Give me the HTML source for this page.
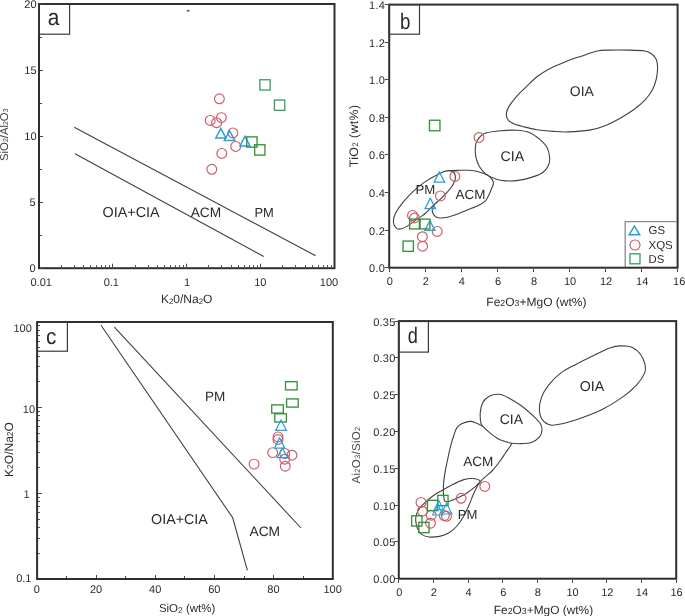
<!DOCTYPE html>
<html><head><meta charset="utf-8"><style>
html,body{margin:0;padding:0;background:#fff;}
svg{display:block;filter:blur(0.4px);}
text{font-family:"Liberation Sans",sans-serif;text-rendering:geometricPrecision;}
</style></head><body>
<svg width="685" height="616" viewBox="0 0 685 616">
<rect width="685" height="616" fill="#fff"/>
<rect x="39.00" y="4.00" width="295.50" height="264.20" fill="none" stroke="#342c2c" stroke-width="2.0"/>
<rect x="39.00" y="4.00" width="30.60" height="30.20" fill="none" stroke="#3d3838" stroke-width="1.2"/>
<text transform="translate(47.80,25.00) scale(0.913,1)" font-size="22.8" fill="#2a2626">a</text>
<line x1="40.00" y1="268.50" x2="43.00" y2="268.50" stroke="#4a4444" stroke-width="1"/>
<line x1="40.00" y1="202.50" x2="43.00" y2="202.50" stroke="#4a4444" stroke-width="1"/>
<line x1="40.00" y1="136.50" x2="43.00" y2="136.50" stroke="#4a4444" stroke-width="1"/>
<line x1="40.00" y1="70.50" x2="43.00" y2="70.50" stroke="#4a4444" stroke-width="1"/>
<line x1="40.00" y1="4.50" x2="43.00" y2="4.50" stroke="#4a4444" stroke-width="1"/>
<line x1="40.00" y1="235.50" x2="42.00" y2="235.50" stroke="#4a4444" stroke-width="1"/>
<line x1="40.00" y1="169.50" x2="42.00" y2="169.50" stroke="#4a4444" stroke-width="1"/>
<line x1="40.00" y1="103.50" x2="42.00" y2="103.50" stroke="#4a4444" stroke-width="1"/>
<line x1="40.00" y1="37.50" x2="42.00" y2="37.50" stroke="#4a4444" stroke-width="1"/>
<text x="35.70" y="272.10" font-size="11" text-anchor="end" fill="#2b2b2b" >0</text>
<text x="35.70" y="206.05" font-size="11" text-anchor="end" fill="#2b2b2b" >5</text>
<text x="36.60" y="140.00" font-size="11" text-anchor="end" fill="#2b2b2b" >10</text>
<text x="36.60" y="73.95" font-size="11" text-anchor="end" fill="#2b2b2b" >15</text>
<text x="36.60" y="7.90" font-size="11" text-anchor="end" fill="#2b2b2b" >20</text>
<line x1="61.50" y1="267.20" x2="61.50" y2="265.20" stroke="#4a4444" stroke-width="1"/>
<line x1="74.50" y1="267.20" x2="74.50" y2="265.20" stroke="#4a4444" stroke-width="1"/>
<line x1="83.50" y1="267.20" x2="83.50" y2="265.20" stroke="#4a4444" stroke-width="1"/>
<line x1="90.50" y1="267.20" x2="90.50" y2="265.20" stroke="#4a4444" stroke-width="1"/>
<line x1="96.50" y1="267.20" x2="96.50" y2="265.20" stroke="#4a4444" stroke-width="1"/>
<line x1="101.50" y1="267.20" x2="101.50" y2="265.20" stroke="#4a4444" stroke-width="1"/>
<line x1="105.50" y1="267.20" x2="105.50" y2="265.20" stroke="#4a4444" stroke-width="1"/>
<line x1="109.50" y1="267.20" x2="109.50" y2="265.20" stroke="#4a4444" stroke-width="1"/>
<line x1="112.50" y1="267.20" x2="112.50" y2="263.70" stroke="#4a4444" stroke-width="1"/>
<line x1="135.50" y1="267.20" x2="135.50" y2="265.20" stroke="#4a4444" stroke-width="1"/>
<line x1="148.50" y1="267.20" x2="148.50" y2="265.20" stroke="#4a4444" stroke-width="1"/>
<line x1="157.50" y1="267.20" x2="157.50" y2="265.20" stroke="#4a4444" stroke-width="1"/>
<line x1="164.50" y1="267.20" x2="164.50" y2="265.20" stroke="#4a4444" stroke-width="1"/>
<line x1="170.50" y1="267.20" x2="170.50" y2="265.20" stroke="#4a4444" stroke-width="1"/>
<line x1="175.50" y1="267.20" x2="175.50" y2="265.20" stroke="#4a4444" stroke-width="1"/>
<line x1="179.50" y1="267.20" x2="179.50" y2="265.20" stroke="#4a4444" stroke-width="1"/>
<line x1="183.50" y1="267.20" x2="183.50" y2="265.20" stroke="#4a4444" stroke-width="1"/>
<line x1="186.50" y1="267.20" x2="186.50" y2="263.70" stroke="#4a4444" stroke-width="1"/>
<line x1="208.50" y1="267.20" x2="208.50" y2="265.20" stroke="#4a4444" stroke-width="1"/>
<line x1="221.50" y1="267.20" x2="221.50" y2="265.20" stroke="#4a4444" stroke-width="1"/>
<line x1="231.50" y1="267.20" x2="231.50" y2="265.20" stroke="#4a4444" stroke-width="1"/>
<line x1="238.50" y1="267.20" x2="238.50" y2="265.20" stroke="#4a4444" stroke-width="1"/>
<line x1="244.50" y1="267.20" x2="244.50" y2="265.20" stroke="#4a4444" stroke-width="1"/>
<line x1="249.50" y1="267.20" x2="249.50" y2="265.20" stroke="#4a4444" stroke-width="1"/>
<line x1="253.50" y1="267.20" x2="253.50" y2="265.20" stroke="#4a4444" stroke-width="1"/>
<line x1="257.50" y1="267.20" x2="257.50" y2="265.20" stroke="#4a4444" stroke-width="1"/>
<line x1="260.50" y1="267.20" x2="260.50" y2="263.70" stroke="#4a4444" stroke-width="1"/>
<line x1="282.50" y1="267.20" x2="282.50" y2="265.20" stroke="#4a4444" stroke-width="1"/>
<line x1="295.50" y1="267.20" x2="295.50" y2="265.20" stroke="#4a4444" stroke-width="1"/>
<line x1="305.50" y1="267.20" x2="305.50" y2="265.20" stroke="#4a4444" stroke-width="1"/>
<line x1="312.50" y1="267.20" x2="312.50" y2="265.20" stroke="#4a4444" stroke-width="1"/>
<line x1="318.50" y1="267.20" x2="318.50" y2="265.20" stroke="#4a4444" stroke-width="1"/>
<line x1="323.50" y1="267.20" x2="323.50" y2="265.20" stroke="#4a4444" stroke-width="1"/>
<line x1="327.50" y1="267.20" x2="327.50" y2="265.20" stroke="#4a4444" stroke-width="1"/>
<line x1="331.50" y1="267.20" x2="331.50" y2="265.20" stroke="#4a4444" stroke-width="1"/>
<text x="41.20" y="286.00" font-size="11" text-anchor="middle" fill="#2b2b2b" >0.01</text>
<text x="111.30" y="286.00" font-size="11" text-anchor="middle" fill="#2b2b2b" >0.1</text>
<text x="187.00" y="286.00" font-size="11" text-anchor="middle" fill="#2b2b2b" >1</text>
<text x="260.30" y="286.00" font-size="11" text-anchor="middle" fill="#2b2b2b" >10</text>
<text x="329.00" y="286.00" font-size="11" text-anchor="middle" fill="#2b2b2b" >100</text>
<text x="161.00" y="303.40" font-size="12" text-anchor="start" fill="#2b2b2b" ><tspan>K</tspan><tspan font-size="7.8" dy="0.4">2</tspan><tspan dy="-0.4">0/Na</tspan><tspan font-size="7.8" dy="0.4">2</tspan><tspan dy="-0.4">O</tspan></text>
<text transform="translate(7.9,134.7) rotate(-90)" font-size="11.3" text-anchor="middle" fill="#3a3a3a"><tspan>SiO</tspan><tspan font-size="7.0" dy="0.5">2</tspan><tspan dy="-0.5">/Al</tspan><tspan font-size="7.0" dy="0.5">2</tspan><tspan dy="-0.5">O</tspan><tspan font-size="7.0" dy="0.5">3</tspan></text>
<line x1="74.20" y1="127.30" x2="315.60" y2="255.70" stroke="#443f3f" stroke-width="1.1"/>
<line x1="75.00" y1="153.80" x2="263.70" y2="256.50" stroke="#443f3f" stroke-width="1.1"/>
<text x="102.60" y="216.50" font-size="14.37" text-anchor="start" fill="#2b2b2b" >OIA+CIA</text>
<text x="190.70" y="216.70" font-size="13.73" text-anchor="start" fill="#2b2b2b" >ACM</text>
<text x="254.50" y="216.80" font-size="12.93" text-anchor="start" fill="#2b2b2b" >PM</text>
<line x1="186.70" y1="10.80" x2="189.60" y2="10.80" stroke="#333" stroke-width="1.2"/>
<circle cx="219.40" cy="98.80" r="4.9" fill="none" stroke="#cf5a66" stroke-width="1.15"/>
<circle cx="221.40" cy="117.60" r="4.9" fill="none" stroke="#cf5a66" stroke-width="1.15"/>
<circle cx="210.20" cy="120.40" r="4.9" fill="none" stroke="#cf5a66" stroke-width="1.15"/>
<circle cx="216.60" cy="122.70" r="4.9" fill="none" stroke="#cf5a66" stroke-width="1.15"/>
<circle cx="232.90" cy="132.90" r="4.9" fill="none" stroke="#cf5a66" stroke-width="1.15"/>
<circle cx="235.70" cy="146.40" r="4.9" fill="none" stroke="#cf5a66" stroke-width="1.15"/>
<circle cx="221.80" cy="153.40" r="4.9" fill="none" stroke="#cf5a66" stroke-width="1.15"/>
<circle cx="211.80" cy="169.30" r="4.9" fill="none" stroke="#cf5a66" stroke-width="1.15"/>
<path d="M220.80,128.30 L225.80,138.00 L215.80,138.00 Z" fill="none" stroke="#27a2d9" stroke-width="1.5" stroke-linejoin="miter"/>
<path d="M229.60,130.90 L234.90,140.60 L224.30,140.60 Z" fill="none" stroke="#27a2d9" stroke-width="1.5" stroke-linejoin="miter"/>
<path d="M245.00,136.30 L250.00,146.00 L240.00,146.00 Z" fill="none" stroke="#27a2d9" stroke-width="1.5" stroke-linejoin="miter"/>
<rect x="259.85" y="79.75" width="10.30" height="10.30" fill="none" stroke="#3aa067" stroke-width="1.35"/>
<rect x="274.45" y="100.05" width="10.30" height="10.30" fill="none" stroke="#3aa067" stroke-width="1.35"/>
<rect x="246.75" y="136.85" width="10.30" height="10.30" fill="none" stroke="#35923a" stroke-width="1.35"/>
<rect x="254.65" y="144.75" width="10.30" height="10.30" fill="none" stroke="#35923a" stroke-width="1.35"/>
<rect x="389.20" y="4.60" width="288.40" height="263.10" fill="none" stroke="#342c2c" stroke-width="2.0"/>
<rect x="389.20" y="4.60" width="30.30" height="29.60" fill="none" stroke="#3d3838" stroke-width="1.2"/>
<text transform="translate(400.10,28.50) scale(0.839,1)" font-size="22.3" fill="#2a2626">b</text>
<line x1="384.70" y1="267.50" x2="388.20" y2="267.50" stroke="#4a4444" stroke-width="1"/>
<text x="385.30" y="272.20" font-size="11" text-anchor="end" fill="#2b2b2b" letter-spacing="0.35">0.0</text>
<line x1="384.70" y1="230.50" x2="388.20" y2="230.50" stroke="#4a4444" stroke-width="1"/>
<text x="385.30" y="234.61" font-size="11" text-anchor="end" fill="#2b2b2b" letter-spacing="0.35">0.2</text>
<line x1="384.70" y1="192.50" x2="388.20" y2="192.50" stroke="#4a4444" stroke-width="1"/>
<text x="385.30" y="197.03" font-size="11" text-anchor="end" fill="#2b2b2b" letter-spacing="0.35">0.4</text>
<line x1="384.70" y1="154.50" x2="388.20" y2="154.50" stroke="#4a4444" stroke-width="1"/>
<text x="385.30" y="159.44" font-size="11" text-anchor="end" fill="#2b2b2b" letter-spacing="0.35">0.6</text>
<line x1="384.70" y1="117.50" x2="388.20" y2="117.50" stroke="#4a4444" stroke-width="1"/>
<text x="385.30" y="121.86" font-size="11" text-anchor="end" fill="#2b2b2b" letter-spacing="0.35">0.8</text>
<line x1="384.70" y1="79.50" x2="388.20" y2="79.50" stroke="#4a4444" stroke-width="1"/>
<text x="385.30" y="84.27" font-size="11" text-anchor="end" fill="#2b2b2b" letter-spacing="0.35">1.0</text>
<line x1="384.70" y1="42.50" x2="388.20" y2="42.50" stroke="#4a4444" stroke-width="1"/>
<text x="385.30" y="46.69" font-size="11" text-anchor="end" fill="#2b2b2b" letter-spacing="0.35">1.2</text>
<line x1="384.70" y1="4.50" x2="388.20" y2="4.50" stroke="#4a4444" stroke-width="1"/>
<text x="385.30" y="9.10" font-size="11" text-anchor="end" fill="#2b2b2b" letter-spacing="0.35">1.4</text>
<line x1="389.50" y1="268.70" x2="389.50" y2="272.00" stroke="#4a4444" stroke-width="1"/>
<text x="389.80" y="285.20" font-size="11" text-anchor="middle" fill="#2b2b2b" >0</text>
<line x1="425.50" y1="268.70" x2="425.50" y2="272.00" stroke="#4a4444" stroke-width="1"/>
<text x="425.85" y="285.20" font-size="11" text-anchor="middle" fill="#2b2b2b" >2</text>
<line x1="461.50" y1="268.70" x2="461.50" y2="272.00" stroke="#4a4444" stroke-width="1"/>
<text x="461.90" y="285.20" font-size="11" text-anchor="middle" fill="#2b2b2b" >4</text>
<line x1="497.50" y1="268.70" x2="497.50" y2="272.00" stroke="#4a4444" stroke-width="1"/>
<text x="497.95" y="285.20" font-size="11" text-anchor="middle" fill="#2b2b2b" >6</text>
<line x1="533.50" y1="268.70" x2="533.50" y2="272.00" stroke="#4a4444" stroke-width="1"/>
<text x="534.00" y="285.20" font-size="11" text-anchor="middle" fill="#2b2b2b" >8</text>
<line x1="569.50" y1="268.70" x2="569.50" y2="272.00" stroke="#4a4444" stroke-width="1"/>
<text x="570.05" y="285.20" font-size="11" text-anchor="middle" fill="#2b2b2b" >10</text>
<line x1="605.50" y1="268.70" x2="605.50" y2="272.00" stroke="#4a4444" stroke-width="1"/>
<text x="606.10" y="285.20" font-size="11" text-anchor="middle" fill="#2b2b2b" >12</text>
<line x1="641.50" y1="268.70" x2="641.50" y2="272.00" stroke="#4a4444" stroke-width="1"/>
<text x="642.15" y="285.20" font-size="11" text-anchor="middle" fill="#2b2b2b" >14</text>
<line x1="677.50" y1="268.70" x2="677.50" y2="272.00" stroke="#4a4444" stroke-width="1"/>
<text x="679.20" y="285.20" font-size="11" text-anchor="middle" fill="#2b2b2b" >16</text>
<text x="486.30" y="305.90" font-size="12.0" text-anchor="start" fill="#2b2b2b" ><tspan>Fe</tspan><tspan font-size="8.8" dy="0.5">2</tspan><tspan dy="-0.5">O</tspan><tspan font-size="8.8" dy="0.5">3</tspan><tspan dy="-0.5">+MgO (wt%)</tspan></text>
<text transform="translate(357.6,135.9) rotate(-90)" font-size="12.3" letter-spacing="0.4" text-anchor="middle" fill="#2b2b2b"><tspan>TiO</tspan><tspan font-size="8.0" dy="0.8">2</tspan><tspan dy="-0.8"> (wt%)</tspan></text>
<path d="M506.50,113.00 C506.77,110.98 507.28,109.30 508.90,106.60 C510.52,103.90 513.35,100.05 516.20,96.80 C519.05,93.55 522.48,90.48 526.00,87.10 C529.52,83.72 533.52,79.48 537.30,76.50 C541.08,73.52 544.10,71.63 548.70,69.20 C553.30,66.77 559.48,64.07 564.90,61.90 C570.32,59.73 575.78,58.02 581.20,56.20 C586.62,54.38 592.73,52.02 597.40,51.00 C602.07,49.98 603.98,50.25 609.20,50.10 C614.42,49.95 622.75,49.95 628.70,50.10 C634.65,50.25 641.12,50.38 644.90,51.00 C648.68,51.62 649.50,52.38 651.40,53.80 C653.30,55.22 655.27,57.20 656.30,59.50 C657.33,61.80 657.60,64.35 657.60,67.60 C657.60,70.85 657.20,75.22 656.30,79.00 C655.40,82.78 654.10,86.78 652.20,90.30 C650.30,93.82 648.00,96.85 644.90,100.10 C641.80,103.35 637.65,106.83 633.60,109.80 C629.55,112.77 625.47,115.20 620.60,117.90 C615.73,120.60 609.55,123.97 604.40,126.00 C599.25,128.03 595.73,129.12 589.70,130.10 C583.67,131.08 574.22,131.68 568.20,131.90 C562.18,132.12 558.75,131.75 553.60,131.40 C548.45,131.05 542.17,130.55 537.30,129.80 C532.43,129.05 528.45,127.93 524.40,126.90 C520.35,125.87 515.85,124.97 513.00,123.60 C510.15,122.23 508.38,120.47 507.30,118.70 C506.22,116.93 506.23,115.02 506.50,113.00 Z" fill="none" stroke="#443f3f" stroke-width="1.1"/>
<path d="M475.40,147.30 C475.57,144.62 475.40,143.30 476.90,141.00 C478.40,138.70 480.45,135.20 484.40,133.50 C488.35,131.80 495.20,131.33 500.60,130.80 C506.00,130.27 511.93,129.98 516.80,130.30 C521.67,130.62 526.02,131.22 529.80,132.70 C533.58,134.18 536.65,136.77 539.50,139.20 C542.35,141.63 545.22,144.32 546.90,147.30 C548.58,150.28 549.33,154.12 549.60,157.10 C549.87,160.08 549.63,162.63 548.50,165.20 C547.37,167.77 545.65,170.47 542.80,172.50 C539.95,174.53 535.73,176.05 531.40,177.40 C527.07,178.75 521.12,180.02 516.80,180.60 C512.48,181.18 509.02,181.17 505.50,180.90 C501.98,180.63 498.95,180.13 495.70,179.00 C492.45,177.87 488.70,176.13 486.00,174.10 C483.30,172.07 481.18,169.63 479.50,166.80 C477.82,163.97 476.58,160.35 475.90,157.10 C475.22,153.85 475.23,149.98 475.40,147.30 Z" fill="none" stroke="#443f3f" stroke-width="1.1"/>
<path d="M449.20,170.60 C450.80,170.67 452.57,171.03 453.60,172.00 C454.63,172.97 455.23,174.87 455.40,176.40 C455.57,177.93 455.33,179.32 454.60,181.20 C453.87,183.08 452.55,185.53 451.00,187.70 C449.45,189.87 447.20,192.17 445.30,194.20 C443.40,196.23 441.63,198.00 439.60,199.90 C437.57,201.80 435.40,203.42 433.10,205.60 C430.80,207.78 428.08,211.00 425.80,213.00 C423.52,215.00 422.50,215.42 419.40,217.60 C416.30,219.78 410.18,224.23 407.20,226.10 C404.22,227.97 403.28,228.42 401.50,228.80 C399.72,229.18 397.85,229.53 396.50,228.40 C395.15,227.27 393.58,224.47 393.40,222.00 C393.22,219.53 393.88,216.78 395.40,213.60 C396.92,210.42 399.53,206.62 402.50,202.90 C405.47,199.18 409.33,194.88 413.20,191.30 C417.07,187.72 421.73,184.12 425.70,181.40 C429.67,178.68 433.95,176.63 437.00,175.00 C440.05,173.37 441.97,172.33 444.00,171.60 C446.03,170.87 447.60,170.53 449.20,170.60 Z" fill="none" stroke="#443f3f" stroke-width="1.1"/>
<path d="M449.20,170.60 C450.58,170.57 454.20,170.45 457.50,170.40 C460.80,170.35 465.52,170.08 469.00,170.30 C472.48,170.52 475.28,170.88 478.40,171.70 C481.52,172.52 485.37,173.83 487.70,175.20 C490.03,176.57 491.45,178.50 492.40,179.90 C493.35,181.30 493.50,182.25 493.40,183.60 C493.30,184.95 492.55,186.10 491.80,188.00 C491.05,189.90 489.97,192.85 488.90,195.00 C487.83,197.15 487.15,199.15 485.40,200.90 C483.65,202.65 481.52,203.95 478.40,205.50 C475.28,207.05 470.60,208.63 466.70,210.20 C462.80,211.77 458.88,213.63 455.00,214.90 C451.12,216.17 446.50,217.42 443.40,217.80 C440.30,218.18 438.20,218.03 436.40,217.20 C434.60,216.37 433.25,214.23 432.60,212.80 C431.95,211.37 432.18,209.90 432.50,208.60 C432.82,207.30 434.17,205.60 434.50,205.00 " fill="none" stroke="#443f3f" stroke-width="1.1"/>
<text x="569.80" y="95.90" font-size="13.93" text-anchor="start" fill="#2b2b2b" >OIA</text>
<text x="500.60" y="160.50" font-size="14.1" text-anchor="start" fill="#2b2b2b" >CIA</text>
<text x="455.60" y="198.70" font-size="13.41" text-anchor="start" fill="#2b2b2b" >ACM</text>
<text x="415.50" y="194.40" font-size="13.2" text-anchor="start" fill="#2b2b2b" >PM</text>
<path d="M625.2,267 L625.2,221.6 L677,221.6" fill="none" stroke="#8a8a8a" stroke-width="1.3"/>
<path d="M634.40,226.20 L639.70,234.80 L629.10,234.80 Z" fill="none" stroke="#27a2d9" stroke-width="1.5" stroke-linejoin="miter"/>
<circle cx="635.00" cy="245.00" r="5.0" fill="none" stroke="#cf5a66" stroke-width="1.15"/>
<rect x="630.00" y="253.80" width="10.00" height="10.00" fill="none" stroke="#3aa067" stroke-width="1.35"/>
<text x="648.60" y="234.10" font-size="11.42" text-anchor="start" fill="#2b2b2b" >GS</text>
<text x="648.50" y="248.50" font-size="11.5" text-anchor="start" fill="#2b2b2b" >XQS</text>
<text x="648.60" y="262.60" font-size="11.3" text-anchor="start" fill="#2b2b2b" >DS</text>
<circle cx="479.00" cy="137.50" r="4.9" fill="none" stroke="#cf5a66" stroke-width="1.15"/>
<circle cx="454.90" cy="176.40" r="4.9" fill="none" stroke="#cf5a66" stroke-width="1.15"/>
<circle cx="440.40" cy="195.90" r="4.9" fill="none" stroke="#cf5a66" stroke-width="1.15"/>
<circle cx="412.50" cy="215.40" r="4.9" fill="none" stroke="#cf5a66" stroke-width="1.15"/>
<circle cx="414.50" cy="218.00" r="4.9" fill="none" stroke="#cf5a66" stroke-width="1.15"/>
<circle cx="437.20" cy="231.40" r="4.9" fill="none" stroke="#cf5a66" stroke-width="1.15"/>
<circle cx="422.40" cy="236.70" r="4.9" fill="none" stroke="#cf5a66" stroke-width="1.15"/>
<circle cx="422.60" cy="246.20" r="4.9" fill="none" stroke="#cf5a66" stroke-width="1.15"/>
<path d="M439.40,172.00 L444.70,182.20 L434.10,182.20 Z" fill="none" stroke="#27a2d9" stroke-width="1.3" stroke-linejoin="miter"/>
<path d="M430.30,198.30 L435.60,208.70 L425.00,208.70 Z" fill="none" stroke="#27a2d9" stroke-width="1.3" stroke-linejoin="miter"/>
<path d="M429.90,220.60 L435.00,230.40 L424.80,230.40 Z" fill="none" stroke="#27a2d9" stroke-width="1.3" stroke-linejoin="miter"/>
<rect x="429.45" y="120.25" width="10.50" height="10.50" fill="none" stroke="#35923a" stroke-width="1.35"/>
<rect x="409.60" y="219.10" width="9.80" height="9.80" fill="none" stroke="#35923a" stroke-width="1.35"/>
<rect x="420.10" y="219.10" width="9.80" height="9.80" fill="none" stroke="#35923a" stroke-width="1.35"/>
<rect x="403.05" y="241.05" width="10.30" height="10.30" fill="none" stroke="#35923a" stroke-width="1.35"/>
<rect x="37.10" y="322.00" width="295.70" height="257.00" fill="none" stroke="#342c2c" stroke-width="2.0"/>
<rect x="37.10" y="322.00" width="30.30" height="29.20" fill="none" stroke="#3d3838" stroke-width="1.2"/>
<text transform="translate(45.90,344.40) scale(0.929,1)" font-size="22.3" fill="#2a2626">c</text>
<line x1="38.10" y1="553.50" x2="39.90" y2="553.50" stroke="#4a4444" stroke-width="1"/>
<line x1="38.10" y1="538.50" x2="39.90" y2="538.50" stroke="#4a4444" stroke-width="1"/>
<line x1="38.10" y1="527.50" x2="39.90" y2="527.50" stroke="#4a4444" stroke-width="1"/>
<line x1="38.10" y1="519.50" x2="39.90" y2="519.50" stroke="#4a4444" stroke-width="1"/>
<line x1="38.10" y1="512.50" x2="39.90" y2="512.50" stroke="#4a4444" stroke-width="1"/>
<line x1="38.10" y1="506.50" x2="39.90" y2="506.50" stroke="#4a4444" stroke-width="1"/>
<line x1="38.10" y1="501.50" x2="39.90" y2="501.50" stroke="#4a4444" stroke-width="1"/>
<line x1="38.10" y1="497.50" x2="39.90" y2="497.50" stroke="#4a4444" stroke-width="1"/>
<line x1="38.10" y1="493.50" x2="41.90" y2="493.50" stroke="#4a4444" stroke-width="1"/>
<line x1="38.10" y1="467.50" x2="39.90" y2="467.50" stroke="#4a4444" stroke-width="1"/>
<line x1="38.10" y1="452.50" x2="39.90" y2="452.50" stroke="#4a4444" stroke-width="1"/>
<line x1="38.10" y1="441.50" x2="39.90" y2="441.50" stroke="#4a4444" stroke-width="1"/>
<line x1="38.10" y1="433.50" x2="39.90" y2="433.50" stroke="#4a4444" stroke-width="1"/>
<line x1="38.10" y1="426.50" x2="39.90" y2="426.50" stroke="#4a4444" stroke-width="1"/>
<line x1="38.10" y1="420.50" x2="39.90" y2="420.50" stroke="#4a4444" stroke-width="1"/>
<line x1="38.10" y1="415.50" x2="39.90" y2="415.50" stroke="#4a4444" stroke-width="1"/>
<line x1="38.10" y1="411.50" x2="39.90" y2="411.50" stroke="#4a4444" stroke-width="1"/>
<line x1="38.10" y1="407.50" x2="41.90" y2="407.50" stroke="#4a4444" stroke-width="1"/>
<line x1="38.10" y1="381.50" x2="39.90" y2="381.50" stroke="#4a4444" stroke-width="1"/>
<line x1="38.10" y1="366.50" x2="39.90" y2="366.50" stroke="#4a4444" stroke-width="1"/>
<line x1="38.10" y1="356.50" x2="39.90" y2="356.50" stroke="#4a4444" stroke-width="1"/>
<line x1="38.10" y1="347.50" x2="39.90" y2="347.50" stroke="#4a4444" stroke-width="1"/>
<line x1="38.10" y1="341.50" x2="39.90" y2="341.50" stroke="#4a4444" stroke-width="1"/>
<line x1="38.10" y1="335.50" x2="39.90" y2="335.50" stroke="#4a4444" stroke-width="1"/>
<line x1="38.10" y1="330.50" x2="39.90" y2="330.50" stroke="#4a4444" stroke-width="1"/>
<line x1="38.10" y1="325.50" x2="39.90" y2="325.50" stroke="#4a4444" stroke-width="1"/>
<text x="13.50" y="331.50" font-size="11" text-anchor="start" fill="#2b2b2b" >100</text>
<text x="22.80" y="412.90" font-size="11" text-anchor="start" fill="#2b2b2b" >10</text>
<text x="23.40" y="497.90" font-size="11" text-anchor="start" fill="#2b2b2b" >1</text>
<text x="16.20" y="581.60" font-size="11" text-anchor="start" fill="#2b2b2b" >0.1</text>
<line x1="66.50" y1="578.00" x2="66.50" y2="576.00" stroke="#4a4444" stroke-width="1"/>
<line x1="96.50" y1="578.00" x2="96.50" y2="575.00" stroke="#4a4444" stroke-width="1"/>
<line x1="125.50" y1="578.00" x2="125.50" y2="576.00" stroke="#4a4444" stroke-width="1"/>
<line x1="155.50" y1="578.00" x2="155.50" y2="575.00" stroke="#4a4444" stroke-width="1"/>
<line x1="184.50" y1="578.00" x2="184.50" y2="576.00" stroke="#4a4444" stroke-width="1"/>
<line x1="214.50" y1="578.00" x2="214.50" y2="575.00" stroke="#4a4444" stroke-width="1"/>
<line x1="244.50" y1="578.00" x2="244.50" y2="576.00" stroke="#4a4444" stroke-width="1"/>
<line x1="273.50" y1="578.00" x2="273.50" y2="575.00" stroke="#4a4444" stroke-width="1"/>
<line x1="303.50" y1="578.00" x2="303.50" y2="576.00" stroke="#4a4444" stroke-width="1"/>
<text x="36.90" y="592.80" font-size="11" text-anchor="middle" fill="#2b2b2b" >0</text>
<text x="96.04" y="592.80" font-size="11" text-anchor="middle" fill="#2b2b2b" >20</text>
<text x="155.18" y="592.80" font-size="11" text-anchor="middle" fill="#2b2b2b" >40</text>
<text x="214.32" y="592.80" font-size="11" text-anchor="middle" fill="#2b2b2b" >60</text>
<text x="273.46" y="592.80" font-size="11" text-anchor="middle" fill="#2b2b2b" >80</text>
<text x="332.60" y="592.80" font-size="11" text-anchor="middle" fill="#2b2b2b" >100</text>
<text x="158.90" y="612.40" font-size="11.5" text-anchor="start" fill="#2b2b2b" ><tspan>SiO</tspan><tspan font-size="8.4" dy="0.5">2</tspan><tspan dy="-0.5"> (wt%)</tspan></text>
<text transform="translate(12.6,449.5) rotate(-90)" font-size="12" text-anchor="middle" fill="#2b2b2b"><tspan>K</tspan><tspan font-size="8.5" dy="0.4">2</tspan><tspan dy="-0.4">O/Na</tspan><tspan font-size="8.5" dy="0.4">2</tspan><tspan dy="-0.4">O</tspan></text>
<polyline points="101.0,325.2 232.7,517.8 247.4,570.3" fill="none" stroke="#443f3f" stroke-width="1.1"/>
<line x1="114.40" y1="327.10" x2="301.00" y2="528.00" stroke="#443f3f" stroke-width="1.1"/>
<text x="204.90" y="400.60" font-size="13.53" text-anchor="start" fill="#2b2b2b" >PM</text>
<text x="151.10" y="523.50" font-size="14.27" text-anchor="start" fill="#2b2b2b" >OIA+CIA</text>
<text x="249.50" y="536.10" font-size="13.77" text-anchor="start" fill="#2b2b2b" >ACM</text>
<rect x="285.50" y="381.70" width="11.60" height="8.20" fill="none" stroke="#35923a" stroke-width="1.35"/>
<rect x="286.60" y="398.90" width="11.60" height="8.20" fill="none" stroke="#35923a" stroke-width="1.35"/>
<rect x="271.70" y="404.90" width="11.60" height="8.20" fill="none" stroke="#35923a" stroke-width="1.35"/>
<rect x="274.80" y="413.80" width="11.60" height="8.20" fill="none" stroke="#35923a" stroke-width="1.35"/>
<circle cx="278.00" cy="436.90" r="4.9" fill="none" stroke="#cf5a66" stroke-width="1.15"/>
<circle cx="278.00" cy="439.50" r="4.9" fill="none" stroke="#cf5a66" stroke-width="1.15"/>
<circle cx="272.70" cy="452.60" r="4.9" fill="none" stroke="#cf5a66" stroke-width="1.15"/>
<circle cx="284.70" cy="453.40" r="4.9" fill="none" stroke="#cf5a66" stroke-width="1.15"/>
<circle cx="292.00" cy="455.20" r="4.9" fill="none" stroke="#cf5a66" stroke-width="1.15"/>
<circle cx="284.70" cy="459.20" r="4.9" fill="none" stroke="#cf5a66" stroke-width="1.15"/>
<circle cx="285.30" cy="466.20" r="4.9" fill="none" stroke="#cf5a66" stroke-width="1.15"/>
<circle cx="254.10" cy="464.10" r="4.9" fill="none" stroke="#cf5a66" stroke-width="1.15"/>
<path d="M281.00,420.00 L286.40,430.40 L275.60,430.40 Z" fill="none" stroke="#27a2d9" stroke-width="1.25" stroke-linejoin="miter"/>
<path d="M279.60,437.80 L284.70,448.10 L274.50,448.10 Z" fill="none" stroke="#27a2d9" stroke-width="1.25" stroke-linejoin="miter"/>
<path d="M282.40,448.40 L287.70,457.60 L277.10,457.60 Z" fill="none" stroke="#27a2d9" stroke-width="1.25" stroke-linejoin="miter"/>
<rect x="398.80" y="321.10" width="277.40" height="257.60" fill="none" stroke="#342c2c" stroke-width="2.0"/>
<rect x="398.80" y="321.10" width="29.60" height="31.00" fill="none" stroke="#3d3838" stroke-width="1.2"/>
<text transform="translate(407.70,343.00) scale(0.815,1)" font-size="22.3" fill="#2a2626">d</text>
<line x1="394.30" y1="578.50" x2="397.80" y2="578.50" stroke="#4a4444" stroke-width="1"/>
<text x="395.60" y="583.10" font-size="11" text-anchor="end" fill="#2b2b2b" letter-spacing="0.25">0.00</text>
<line x1="394.30" y1="541.50" x2="397.80" y2="541.50" stroke="#4a4444" stroke-width="1"/>
<text x="395.60" y="546.30" font-size="11" text-anchor="end" fill="#2b2b2b" letter-spacing="0.25">0.05</text>
<line x1="394.30" y1="505.50" x2="397.80" y2="505.50" stroke="#4a4444" stroke-width="1"/>
<text x="395.60" y="509.50" font-size="11" text-anchor="end" fill="#2b2b2b" letter-spacing="0.25">0.10</text>
<line x1="394.30" y1="468.50" x2="397.80" y2="468.50" stroke="#4a4444" stroke-width="1"/>
<text x="395.60" y="472.70" font-size="11" text-anchor="end" fill="#2b2b2b" letter-spacing="0.25">0.15</text>
<line x1="394.30" y1="431.50" x2="397.80" y2="431.50" stroke="#4a4444" stroke-width="1"/>
<text x="395.60" y="435.90" font-size="11" text-anchor="end" fill="#2b2b2b" letter-spacing="0.25">0.20</text>
<line x1="394.30" y1="394.50" x2="397.80" y2="394.50" stroke="#4a4444" stroke-width="1"/>
<text x="395.60" y="399.10" font-size="11" text-anchor="end" fill="#2b2b2b" letter-spacing="0.25">0.25</text>
<line x1="394.30" y1="357.50" x2="397.80" y2="357.50" stroke="#4a4444" stroke-width="1"/>
<text x="395.60" y="362.30" font-size="11" text-anchor="end" fill="#2b2b2b" letter-spacing="0.25">0.30</text>
<line x1="394.30" y1="321.50" x2="397.80" y2="321.50" stroke="#4a4444" stroke-width="1"/>
<text x="395.60" y="325.50" font-size="11" text-anchor="end" fill="#2b2b2b" letter-spacing="0.25">0.35</text>
<line x1="398.50" y1="579.70" x2="398.50" y2="583.00" stroke="#4a4444" stroke-width="1"/>
<text x="399.20" y="595.80" font-size="11" text-anchor="middle" fill="#2b2b2b" >0</text>
<line x1="433.50" y1="579.70" x2="433.50" y2="583.00" stroke="#4a4444" stroke-width="1"/>
<text x="433.88" y="595.80" font-size="11" text-anchor="middle" fill="#2b2b2b" >2</text>
<line x1="468.50" y1="579.70" x2="468.50" y2="583.00" stroke="#4a4444" stroke-width="1"/>
<text x="468.55" y="595.80" font-size="11" text-anchor="middle" fill="#2b2b2b" >4</text>
<line x1="502.50" y1="579.70" x2="502.50" y2="583.00" stroke="#4a4444" stroke-width="1"/>
<text x="503.23" y="595.80" font-size="11" text-anchor="middle" fill="#2b2b2b" >6</text>
<line x1="537.50" y1="579.70" x2="537.50" y2="583.00" stroke="#4a4444" stroke-width="1"/>
<text x="537.90" y="595.80" font-size="11" text-anchor="middle" fill="#2b2b2b" >8</text>
<line x1="572.50" y1="579.70" x2="572.50" y2="583.00" stroke="#4a4444" stroke-width="1"/>
<text x="572.58" y="595.80" font-size="11" text-anchor="middle" fill="#2b2b2b" >10</text>
<line x1="606.50" y1="579.70" x2="606.50" y2="583.00" stroke="#4a4444" stroke-width="1"/>
<text x="607.25" y="595.80" font-size="11" text-anchor="middle" fill="#2b2b2b" >12</text>
<line x1="641.50" y1="579.70" x2="641.50" y2="583.00" stroke="#4a4444" stroke-width="1"/>
<text x="641.93" y="595.80" font-size="11" text-anchor="middle" fill="#2b2b2b" >14</text>
<line x1="676.50" y1="579.70" x2="676.50" y2="583.00" stroke="#4a4444" stroke-width="1"/>
<text x="676.60" y="595.80" font-size="11" text-anchor="middle" fill="#2b2b2b" >16</text>
<text x="493.80" y="613.60" font-size="11.9" text-anchor="start" fill="#2b2b2b" ><tspan>Fe</tspan><tspan font-size="8.8" dy="0.5">2</tspan><tspan dy="-0.5">O</tspan><tspan font-size="8.8" dy="0.5">3</tspan><tspan dy="-0.5">+MgO (wt%)</tspan></text>
<text transform="translate(359.8,455.0) rotate(-90)" font-size="11.5" letter-spacing="0.25" text-anchor="middle" fill="#4a4a4a"><tspan>Ai</tspan><tspan font-size="7.6" dy="0.5">2</tspan><tspan dy="-0.5">O</tspan><tspan font-size="7.6" dy="0.5">3</tspan><tspan dy="-0.5">/SiO</tspan><tspan font-size="7.6" dy="0.5">2</tspan></text>
<path d="M620.10,345.90 C623.85,345.80 628.98,345.97 632.40,347.40 C635.82,348.83 638.48,351.62 640.60,354.50 C642.72,357.38 644.42,361.63 645.10,364.70 C645.78,367.77 646.13,369.48 644.70,372.90 C643.27,376.32 640.25,381.12 636.50,385.20 C632.75,389.28 628.00,393.32 622.20,397.40 C616.40,401.48 608.52,406.28 601.70,409.70 C594.88,413.12 588.10,415.52 581.30,417.90 C574.50,420.28 566.00,422.82 560.90,424.00 C555.80,425.18 553.77,425.68 550.70,425.00 C547.63,424.32 544.38,422.45 542.50,419.90 C540.62,417.35 539.57,413.45 539.40,409.70 C539.23,405.95 539.97,401.48 541.50,397.40 C543.03,393.32 545.37,389.28 548.60,385.20 C551.83,381.12 556.13,376.48 560.90,372.90 C565.67,369.32 571.75,366.60 577.20,363.70 C582.65,360.80 588.15,358.12 593.60,355.50 C599.05,352.88 605.48,349.60 609.90,348.00 C614.32,346.40 616.35,346.00 620.10,345.90 Z" fill="none" stroke="#443f3f" stroke-width="1.1"/>
<path d="M481.10,423.80 C480.42,421.23 480.03,416.02 480.30,412.50 C480.57,408.98 481.22,405.42 482.70,402.70 C484.18,399.98 486.48,397.60 489.20,396.20 C491.92,394.80 495.75,394.02 499.00,394.30 C502.25,394.58 504.92,395.95 508.70,397.90 C512.48,399.85 517.65,403.03 521.70,406.00 C525.75,408.97 529.88,412.73 533.00,415.70 C536.12,418.67 538.90,421.37 540.40,423.80 C541.90,426.23 542.15,428.13 542.00,430.30 C541.85,432.47 541.27,434.77 539.50,436.80 C537.73,438.83 534.37,441.37 531.40,442.50 C528.43,443.63 524.95,443.47 521.70,443.60 C518.45,443.73 515.42,443.88 511.90,443.30 C508.38,442.72 504.12,441.72 500.60,440.10 C497.08,438.48 493.50,435.63 490.80,433.60 C488.10,431.57 486.02,429.53 484.40,427.90 C482.78,426.27 481.78,426.37 481.10,423.80 Z" fill="none" stroke="#443f3f" stroke-width="1.1"/>
<path d="M482.70,426.30 C481.62,425.75 478.35,423.82 476.20,423.00 C474.05,422.18 472.22,421.27 469.80,421.40 C467.38,421.53 463.87,422.72 461.70,423.80 C459.53,424.88 458.15,425.87 456.80,427.90 C455.45,429.93 454.68,432.77 453.60,436.00 C452.52,439.23 451.38,442.98 450.30,447.30 C449.22,451.62 448.05,457.30 447.10,461.90 C446.15,466.50 445.20,471.10 444.60,474.90 C444.00,478.70 443.68,481.45 443.50,484.70 C443.32,487.95 443.30,491.70 443.50,494.40 C443.70,497.10 443.85,499.72 444.70,500.90 C445.55,502.08 446.85,501.83 448.60,501.50 C450.35,501.17 452.35,500.20 455.20,498.90 C458.05,497.60 462.20,495.88 465.70,493.70 C469.20,491.52 473.13,488.43 476.20,485.80 C479.27,483.17 481.38,480.45 484.10,477.90 C486.82,475.35 489.85,473.32 492.50,470.50 C495.15,467.68 497.83,463.92 500.00,461.00 C502.17,458.08 503.88,455.33 505.50,453.00 C507.12,450.67 508.63,448.62 509.70,447.00 C510.77,445.38 511.53,443.92 511.90,443.30 " fill="none" stroke="#443f3f" stroke-width="1.1"/>
<path d="M480.20,481.20 C479.33,479.98 475.15,478.72 472.30,478.50 C469.45,478.28 466.38,478.90 463.10,479.90 C459.82,480.90 455.88,482.87 452.60,484.50 C449.32,486.13 446.47,487.95 443.40,489.70 C440.33,491.45 437.05,493.03 434.20,495.00 C431.35,496.97 428.72,499.32 426.30,501.50 C423.88,503.68 421.35,505.90 419.70,508.10 C418.05,510.30 417.05,512.52 416.40,514.70 C415.75,516.88 415.58,518.80 415.80,521.20 C416.02,523.60 416.72,526.90 417.70,529.10 C418.68,531.30 419.83,533.08 421.70,534.40 C423.57,535.72 425.95,536.67 428.90,537.00 C431.85,537.33 436.12,537.05 439.40,536.40 C442.68,535.75 445.75,534.75 448.60,533.10 C451.45,531.45 454.08,529.13 456.50,526.50 C458.92,523.87 461.13,520.58 463.10,517.30 C465.07,514.02 466.55,510.73 468.30,506.80 C470.05,502.87 472.07,497.20 473.60,493.70 C475.13,490.20 476.40,487.88 477.50,485.80 C478.60,483.72 481.07,482.42 480.20,481.20 Z" fill="none" stroke="#443f3f" stroke-width="1.1"/>
<text x="579.70" y="390.60" font-size="14.22" text-anchor="start" fill="#2b2b2b" >OIA</text>
<text x="499.80" y="423.70" font-size="13.92" text-anchor="start" fill="#2b2b2b" >CIA</text>
<text x="463.20" y="465.90" font-size="13.55" text-anchor="start" fill="#2b2b2b" >ACM</text>
<text x="457.80" y="518.60" font-size="13.13" text-anchor="start" fill="#2b2b2b" >PM</text>
<circle cx="484.80" cy="486.40" r="4.9" fill="none" stroke="#cf5a66" stroke-width="1.15"/>
<circle cx="461.10" cy="498.30" r="4.9" fill="none" stroke="#cf5a66" stroke-width="1.15"/>
<circle cx="421.00" cy="502.40" r="4.9" fill="none" stroke="#cf5a66" stroke-width="1.15"/>
<circle cx="422.40" cy="511.20" r="4.9" fill="none" stroke="#cf5a66" stroke-width="1.15"/>
<circle cx="431.20" cy="515.20" r="4.9" fill="none" stroke="#cf5a66" stroke-width="1.15"/>
<circle cx="430.50" cy="523.20" r="4.9" fill="none" stroke="#cf5a66" stroke-width="1.15"/>
<circle cx="444.30" cy="515.60" r="4.9" fill="none" stroke="#cf5a66" stroke-width="1.15"/>
<circle cx="446.50" cy="516.30" r="4.9" fill="none" stroke="#cf5a66" stroke-width="1.15"/>
<rect x="437.75" y="495.35" width="10.30" height="10.30" fill="none" stroke="#35923a" stroke-width="1.35"/>
<rect x="427.45" y="500.35" width="10.30" height="10.30" fill="none" stroke="#35923a" stroke-width="1.35"/>
<rect x="411.65" y="515.75" width="10.30" height="10.30" fill="none" stroke="#35923a" stroke-width="1.35"/>
<rect x="418.75" y="522.35" width="10.30" height="10.30" fill="none" stroke="#35923a" stroke-width="1.35"/>
<path d="M438.90,500.60 L443.50,509.60 L434.30,509.60 Z" fill="none" stroke="#27a2d9" stroke-width="1.15" stroke-linejoin="miter"/>
<path d="M437.80,504.60 L443.00,515.00 L432.60,515.00 Z" fill="none" stroke="#27a2d9" stroke-width="1.15" stroke-linejoin="miter"/>
<path d="M446.60,503.20 L451.80,514.00 L441.40,514.00 Z" fill="none" stroke="#27a2d9" stroke-width="1.15" stroke-linejoin="miter"/>
</svg>
</body></html>
